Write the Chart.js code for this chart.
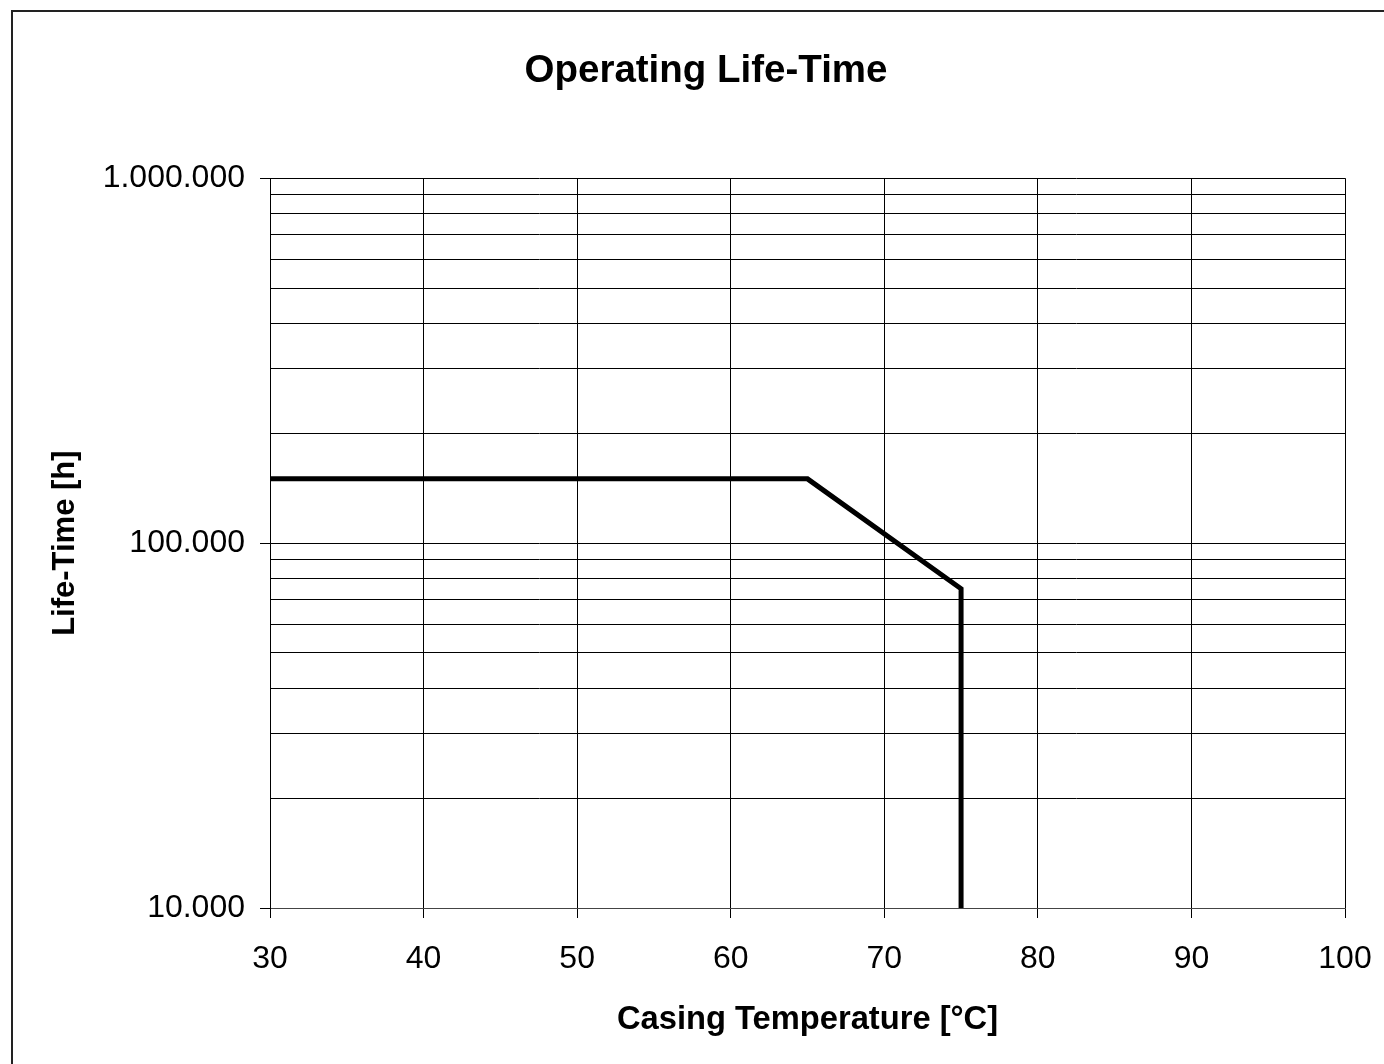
<!DOCTYPE html>
<html>
<head>
<meta charset="utf-8">
<script src="https://cdn.jsdelivr.net/npm/chart.js@4/dist/chart.umd.min.js"></script>
<style>
  html, body { margin: 0; padding: 0; background: #fff; }
  #wrap { width: 1384px; height: 1064px; position: relative; }
</style>
</head>
<body>
<div id="wrap"><canvas id="c" width="1384" height="1064"></canvas></div>
<script>
// ---- data ----
const temperatures = [30, 65, 75, 75];
const lifeTimes = [150000, 150000, 75000, 10000];
const xTicks = [30, 40, 50, 60, 70, 80, 90, 100];
const yMajorTicks = [10000, 100000, 1000000];
const yGridValues = [10000, 20000, 30000, 40000, 50000, 60000, 70000, 80000, 90000,
                     100000, 200000, 300000, 400000, 500000, 600000, 700000, 800000, 900000, 1000000];
const chartTitle = 'Operating Life-Time';
const xTitle = 'Casing Temperature [°C]';
const yTitle = 'Life-Time [h]';

function fmtDots(v) {
  return String(Math.round(v)).replace(/\B(?=(\d{3})+(?!\d))/g, '.');
}

const frame = {
  id: 'frame',
  afterDraw(chart) {
    const ctx = chart.ctx;
    ctx.save();
    ctx.strokeStyle = '#222';
    ctx.lineWidth = 2;
    ctx.beginPath();
    ctx.moveTo(12, 1070);
    ctx.lineTo(12, 11);
    ctx.lineTo(1390, 11);
    ctx.stroke();
    ctx.restore();
  }
};

const FONT = "'Liberation Sans', Arial, sans-serif";

new Chart(document.getElementById('c'), {
  type: 'scatter',
  data: {
    datasets: [{
      data: temperatures.map((t, i) => ({ x: t, y: lifeTimes[i] })),
      showLine: true,
      borderColor: '#000',
      borderWidth: 5,
      pointRadius: 0,
      fill: false,
      tension: 0
    }]
  },
  options: {
    responsive: false,
    animation: false,
    layout: { autoPadding: false, padding: { left: 67, right: 39, top: 0, bottom: 0 } },
    plugins: {
      legend: { display: false },
      tooltip: { enabled: false },
      title: {
        display: true,
        text: chartTitle,
        color: '#000',
        font: { family: FONT, size: 38.5, weight: 'bold' },
        padding: { top: 48, bottom: 84 }
      }
    },
    scales: {
      x: {
        type: 'linear',
        min: 30,
        max: 100,
        afterBuildTicks(scale) { scale.ticks = xTicks.map(v => ({ value: v })); },
        afterFit(scale) {
          scale.height = 156;
          scale.paddingLeft = 0; scale.paddingRight = 0;
        },
        grid: { color: '#000', lineWidth: 1, tickLength: 10, tickColor: '#000' },
        border: { color: '#444', width: 1 },
        ticks: {
          color: '#000',
          font: { family: FONT, size: 32 },
          padding: 22,
          maxRotation: 0,
          autoSkip: false
        },
        title: {
          display: true,
          text: xTitle,
          color: '#000',
          font: { family: FONT, size: 32.7, weight: 'bold' },
          padding: { top: 0, bottom: 24 }
        }
      },
      y: {
        type: 'logarithmic',
        min: 10000,
        max: 1000000,
        afterBuildTicks(scale) { scale.ticks = yGridValues.map(v => ({ value: v, major: yMajorTicks.includes(v) })); },
        afterFit(scale) {
          scale.width = 203;
          scale.paddingTop = 0; scale.paddingBottom = 0;
        },
        grid: {
          color: '#000',
          lineWidth: 1,
          tickLength: 10,
          tickColor: (ctx) => (ctx.tick && yMajorTicks.includes(ctx.tick.value)) ? '#000' : 'rgba(0,0,0,0)'
        },
        border: { color: '#000', width: 1 },
        ticks: {
          color: '#000',
          font: { family: FONT, size: 32 },
          padding: 15,
          autoSkip: false,
          callback: (v) => yMajorTicks.includes(v) ? fmtDots(v) : ''
        },
        title: {
          display: true,
          text: yTitle,
          color: '#000',
          font: { family: FONT, size: 31, weight: 'bold' },
          padding: { top: -20.6, bottom: 0 }
        }
      }
    }
  },
  plugins: [frame]
});
</script>
</body>
</html>
